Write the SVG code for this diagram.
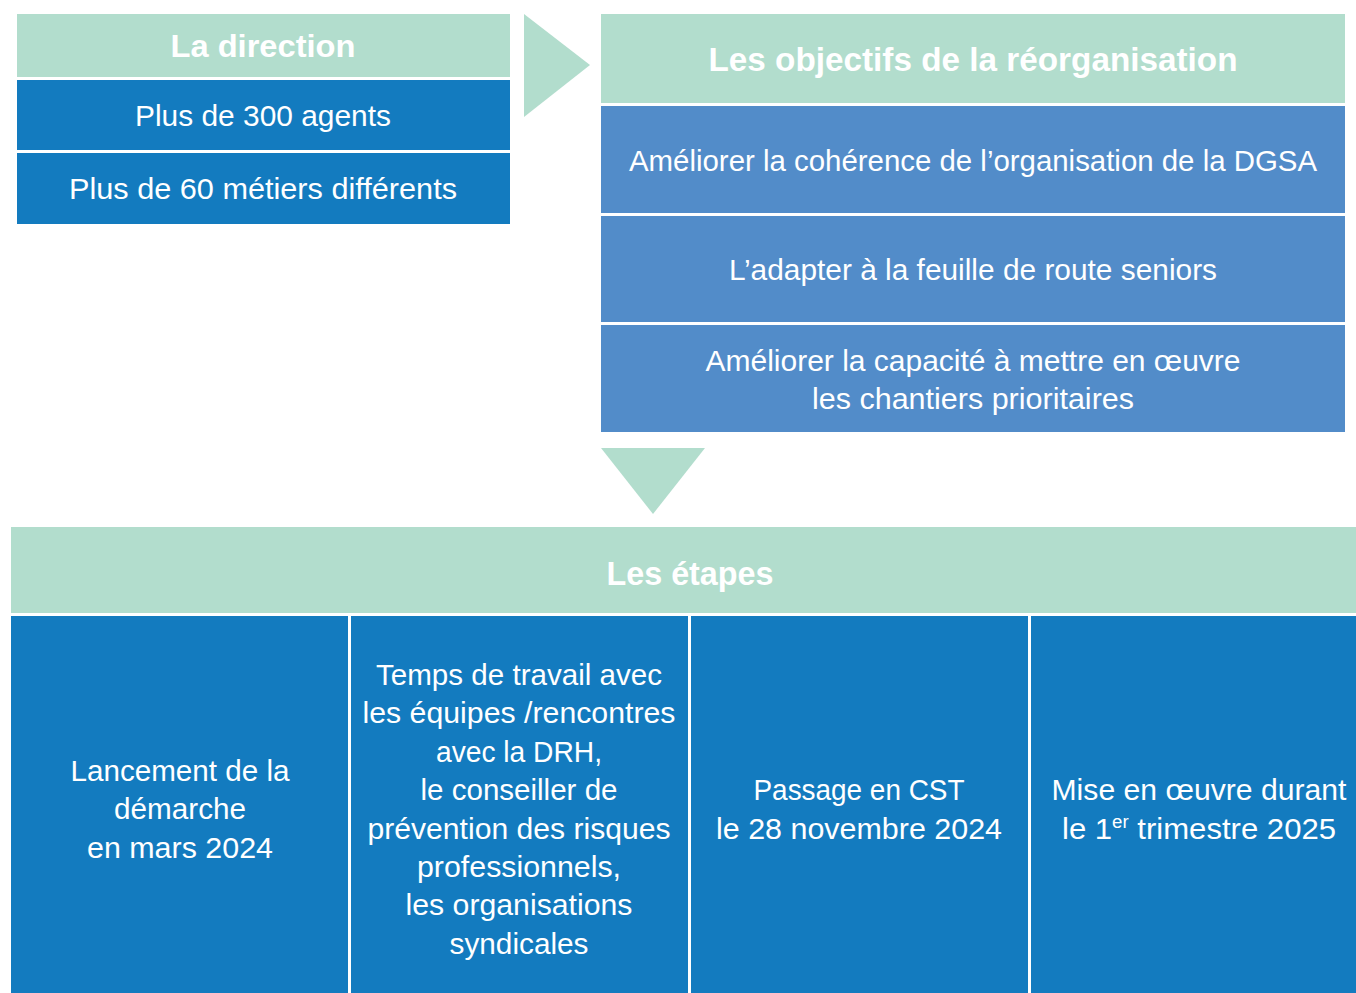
<svg xmlns="http://www.w3.org/2000/svg" width="1356" height="993" viewBox="0 0 1356 993">
<style>
.hdr{fill:#b2ddcd}
.dk{fill:#137bbf}
.lt{fill:#528cc9}
.arr{fill:#b2ddcd}
text{font-family:"Liberation Sans Narrow","Liberation Sans",Arial,sans-serif;fill:#ffffff;text-anchor:middle;font-size:30px}
.b{font-weight:bold;font-size:34px}
</style>
<rect width="1356" height="993" fill="#ffffff"/>
<g id="direction">
<rect class="hdr" x="17" y="14" width="493" height="63"/>
<text class="b" x="263" y="57" font-size="32" textLength="185" lengthAdjust="spacingAndGlyphs" style="font-size:32px">La direction</text>
</g>
<g id="agents">
<rect class="dk" x="17" y="80" width="493" height="70"/>
<text x="263" y="126" textLength="256" lengthAdjust="spacingAndGlyphs">Plus de 300 agents</text>
</g>
<g id="metiers">
<rect class="dk" x="17" y="153" width="493" height="71"/>
<text x="263" y="199" textLength="388" lengthAdjust="spacingAndGlyphs">Plus de 60 métiers différents</text>
</g>
<g id="objectifs">
<rect class="hdr" x="601" y="14" width="744" height="89"/>
<text class="b" x="973" y="71" textLength="529" lengthAdjust="spacingAndGlyphs">Les objectifs de la réorganisation</text>
</g>
<g id="obj1">
<rect class="lt" x="601" y="106" width="744" height="107"/>
<text x="973" y="171" textLength="688" lengthAdjust="spacingAndGlyphs">Améliorer la cohérence de l’organisation de la DGSA</text>
</g>
<g id="obj2">
<rect class="lt" x="601" y="216" width="744" height="106"/>
<text x="973" y="280" textLength="488" lengthAdjust="spacingAndGlyphs">L’adapter à la feuille de route seniors</text>
</g>
<g id="obj3">
<rect class="lt" x="601" y="325" width="744" height="107"/>
<text x="973" y="371" textLength="535" lengthAdjust="spacingAndGlyphs">Améliorer la capacité à mettre en œuvre</text>
<text x="973" y="409" textLength="322" lengthAdjust="spacingAndGlyphs">les chantiers prioritaires</text>
</g>
<g id="etapes">
<rect class="hdr" x="11" y="527" width="1345" height="86"/>
<text class="b" x="690" y="585" textLength="167" lengthAdjust="spacingAndGlyphs">Les étapes</text>
</g>
<g id="etape1">
<rect class="dk" x="11" y="616" width="337" height="377"/>
<text x="180" y="781" textLength="219" lengthAdjust="spacingAndGlyphs">Lancement de la</text>
<text x="180" y="819" textLength="132" lengthAdjust="spacingAndGlyphs">démarche</text>
<text x="180" y="858" textLength="186" lengthAdjust="spacingAndGlyphs">en mars 2024</text>
</g>
<g id="etape2">
<rect class="dk" x="351" y="616" width="337" height="377"/>
<text x="519" y="685" textLength="286" lengthAdjust="spacingAndGlyphs">Temps de travail avec</text>
<text x="519" y="723" textLength="313" lengthAdjust="spacingAndGlyphs">les équipes /rencontres</text>
<text x="519" y="762" textLength="166" lengthAdjust="spacingAndGlyphs">avec la DRH,</text>
<text x="519" y="800" textLength="197" lengthAdjust="spacingAndGlyphs">le conseiller de</text>
<text x="519" y="839" textLength="303" lengthAdjust="spacingAndGlyphs">prévention des risques</text>
<text x="519" y="877" textLength="204" lengthAdjust="spacingAndGlyphs">professionnels,</text>
<text x="519" y="915" textLength="227" lengthAdjust="spacingAndGlyphs">les organisations</text>
<text x="519" y="954" textLength="139" lengthAdjust="spacingAndGlyphs">syndicales</text>
</g>
<g id="etape3">
<rect class="dk" x="691" y="616" width="337" height="377"/>
<text x="859" y="800" textLength="211" lengthAdjust="spacingAndGlyphs">Passage en CST</text>
<text x="859" y="839" textLength="286" lengthAdjust="spacingAndGlyphs">le 28 novembre 2024</text>
</g>
<g id="etape4">
<rect class="dk" x="1031" y="616" width="325" height="377"/>
<text x="1199" y="800" textLength="295" lengthAdjust="spacingAndGlyphs">Mise en œuvre durant</text>
<text x="1199" y="839" textLength="274" lengthAdjust="spacingAndGlyphs">le 1<tspan font-size="18" dy="-11" style="font-size:18px">er</tspan><tspan dy="11"> trimestre 2025</tspan></text>
</g>
<g id="connectors">
<polygon class="arr" points="524,14 590,65 524,117"/>
<polygon class="arr" points="601,448 705,448 653,514"/>
</g>
</svg>
